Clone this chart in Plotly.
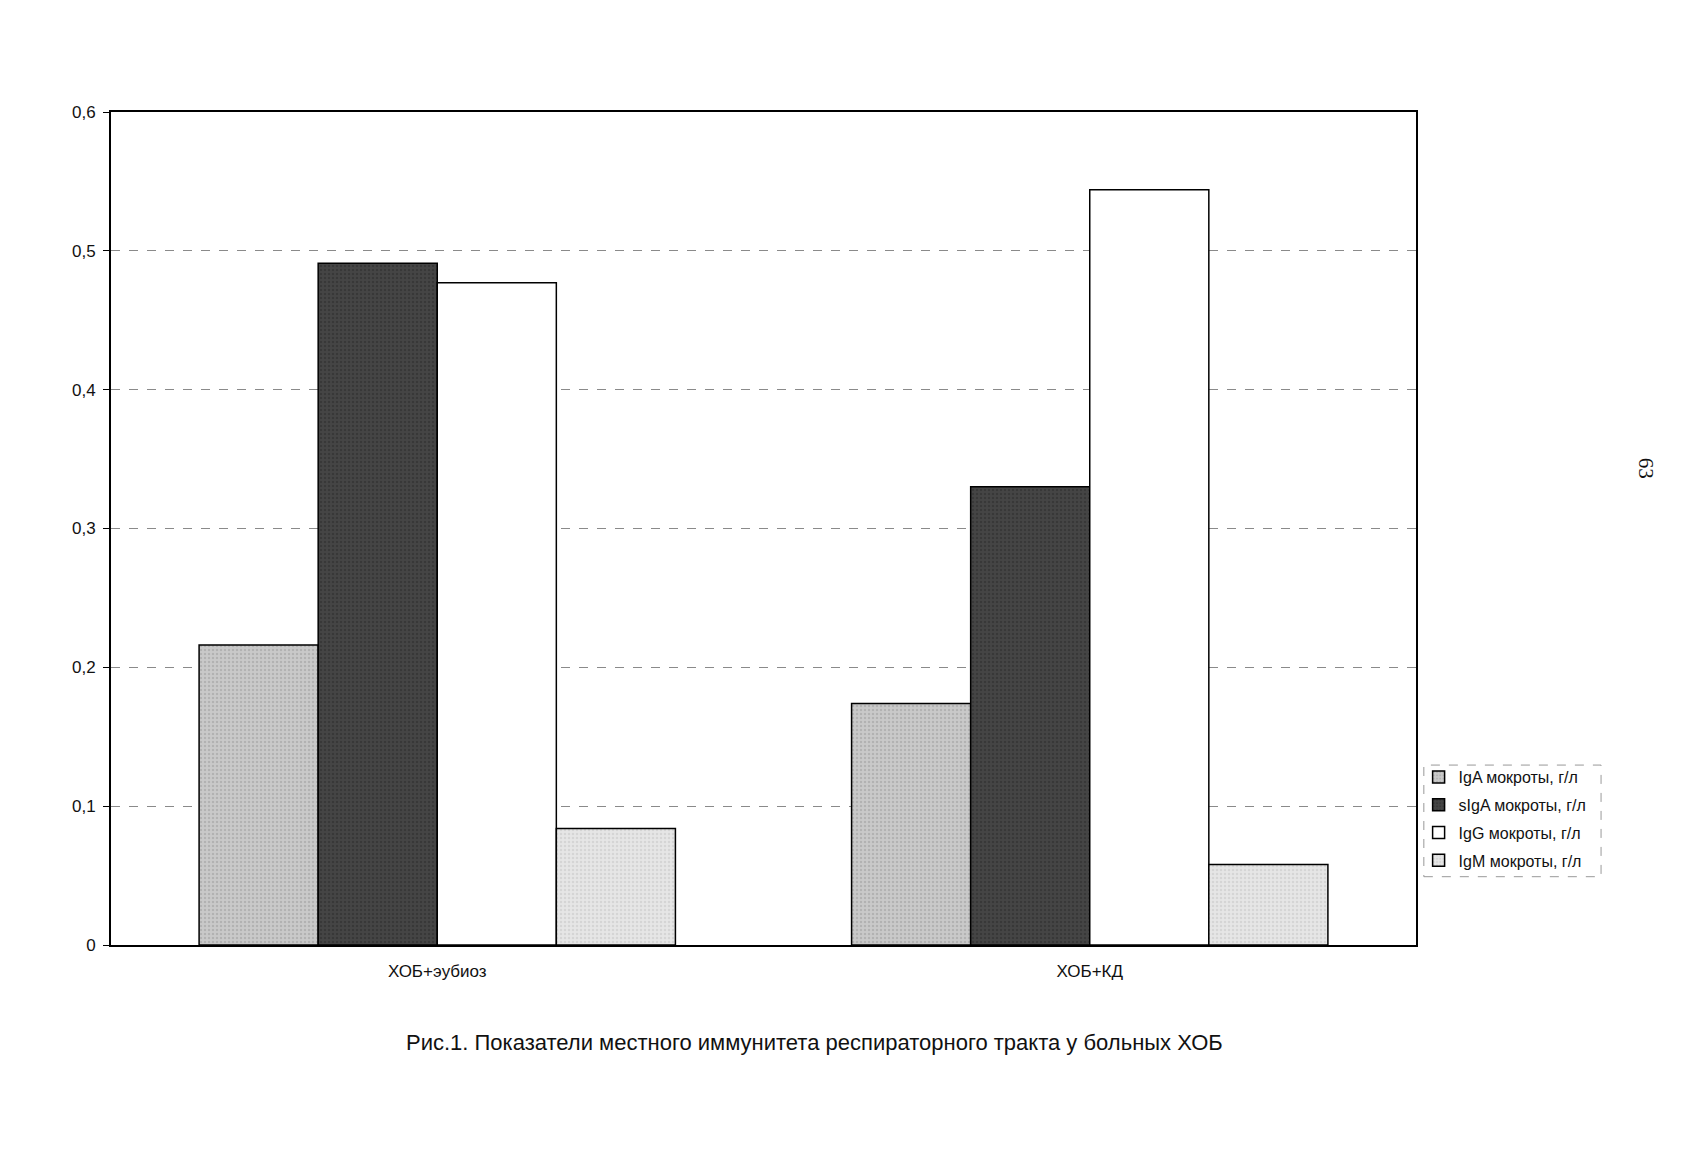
import plotly.graph_objects as go

categories = ["ХОБ+эубиоз", "ХОБ+КД"]
series_names = ["IgA мокроты, г/л", "sIgA мокроты, г/л", "IgG мокроты, г/л", "IgM мокроты, г/л"]
iga = [0.216, 0.174]
siga = [0.491, 0.330]
igg = [0.477, 0.544]
igm = [0.084, 0.058]
tick_vals = [0, 0.1, 0.2, 0.3, 0.4, 0.5, 0.6]
tick_text = ["0", "0,1", "0,2", "0,3", "0,4", "0,5", "0,6"]
caption = "Рис.1. Показатели местного иммунитета респираторного тракта у больных ХОБ"
page_number = "63"

styles = [
    dict(bg="#c9c9c9", fg="#9a9a9a"),
    dict(bg="#454545", fg="#2a2a2a"),
    dict(bg="#ffffff", fg="#ffffff"),
    dict(bg="#e6e6e6", fg="#c4c4c4"),
]

fig = go.Figure()
for i, (name, vals, st) in enumerate(zip(series_names, [iga, siga, igg, igm], styles)):
    fig.add_trace(go.Bar(
        x=categories, y=vals, name=name, legendgroup=f"g{i}",
        marker=dict(color=st["bg"], line=dict(color="#000000", width=1.5),
                    pattern=dict(shape=".", fgcolor=st["fg"], bgcolor=st["bg"], size=4, solidity=0.3)),
    ))

fig.update_layout(
    width=1688, height=1158,
    paper_bgcolor="white", plot_bgcolor="white",
    margin=dict(l=103, r=280, t=104, b=221),
    barmode="group", bargap=0.27, bargroupgap=0,
    font=dict(family="Liberation Sans, Arial, sans-serif", color="#111111", size=17),
    showlegend=True,
    legend=dict(x=1.002, y=0.222, xanchor="left", yanchor="top",
                font=dict(size=16), bgcolor="rgba(0,0,0,0)", borderwidth=0,
                tracegroupgap=4, itemwidth=30),
    xaxis=dict(showline=True, linecolor="#000", linewidth=2, mirror=True,
               ticks="", tickfont=dict(size=17), showgrid=False, ticklabelstandoff=10),
    yaxis=dict(range=[0, 0.6], tickvals=tick_vals, ticktext=tick_text,
               showline=True, linecolor="#000", linewidth=2, mirror=True,
               ticks="outside", ticklen=6, tickcolor="#000", ticklabelstandoff=4,
               showgrid=True, gridcolor="#8a8a8a", griddash="dash", gridwidth=1,
               tickfont=dict(size=17), zeroline=False),
    shapes=[dict(type="rect", xref="paper", yref="paper",
                 x0=1.006, x1=1.1418, y0=0.082, y1=0.216,
                 line=dict(color="#999999", width=1, dash="dash"))],
    annotations=[
        dict(text=caption, xref="paper", yref="paper", x=0.539, y=-0.1165,
             xanchor="center", yanchor="middle", showarrow=False,
             font=dict(size=22, family="Liberation Sans, Arial, sans-serif")),
        dict(text=page_number, xref="paper", yref="paper", x=1.187, y=0.573,
             showarrow=False, textangle=90,
             font=dict(size=21, family="Liberation Serif, Times New Roman, serif")),
    ],
)

fig.write_html("out.html")
